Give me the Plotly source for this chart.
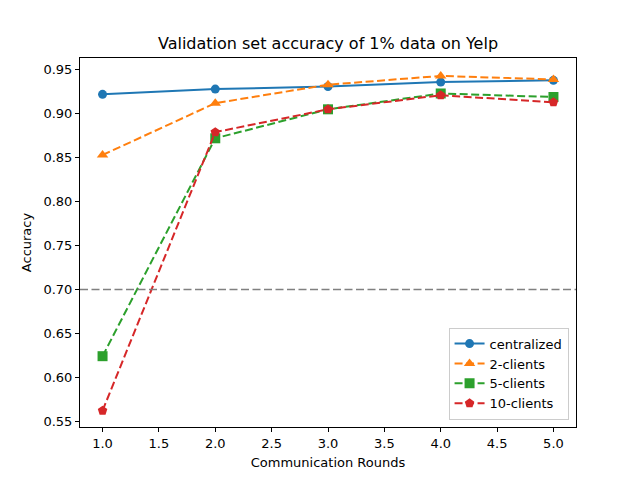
import plotly.graph_objects as go

rounds = [1, 2, 3, 4, 5]
centralized = [0.922, 0.928, 0.931, 0.936, 0.938]
clients_2 = [0.853, 0.912, 0.933, 0.943, 0.939]
clients_5 = [0.624, 0.872, 0.905, 0.923, 0.919]
clients_10 = [0.562, 0.879, 0.905, 0.921, 0.913]
threshold = 0.70

font = "DejaVu Sans"
mpl_dash = "8px,3.5px"

fig = go.Figure()
series = [
    ("centralized", centralized, "#1f77b4", "solid", "circle"),
    ("2-clients", clients_2, "#ff7f0e", mpl_dash, "triangle-up"),
    ("5-clients", clients_5, "#2ca02c", mpl_dash, "square"),
    ("10-clients", clients_10, "#d62728", mpl_dash, "pentagon"),
]
for name, vals, color, dash, sym in series:
    fig.add_trace(go.Scatter(
        x=rounds, y=vals, name=name, mode="lines+markers",
        line=dict(color=color, width=2, dash=dash),
        marker=dict(symbol=sym, size=10 if sym != "circle" else 9, color=color),
    ))

fig.add_hline(y=threshold, line=dict(color="gray", width=1.5, dash=mpl_dash))

axis_common = dict(
    showgrid=False, zeroline=False, showline=True, linecolor="black",
    linewidth=1, mirror=True, ticks="outside", ticklen=4, tickcolor="black",
    tickfont=dict(family=font, size=13, color="black"),
)
fig.update_xaxes(range=[0.8, 5.2], dtick=0.5, tick0=1, tickformat=".1f",
                 title=dict(text="Communication Rounds", font=dict(family=font, size=13, color="black"), standoff=8),
                 **axis_common)
fig.update_yaxes(range=[0.5434, 0.9634], dtick=0.05, tick0=0.55, tickformat=".2f",
                 title=dict(text="Accuracy", font=dict(family=font, size=13, color="black"), standoff=8),
                 **axis_common)

# page body has an 8px margin, so the figure is a bit smaller and shifted
fig.update_layout(
    width=632, height=472,
    margin=dict(l=72, r=64, t=50, b=53),
    paper_bgcolor="white", plot_bgcolor="white",
    title=dict(text="Validation set accuracy of 1% data on Yelp", x=0.5, xref="paper", xanchor="center",
               y=0.926, yref="container", yanchor="middle", font=dict(family=font, size=16, color="black")),
    legend=dict(x=0.985, y=0.02, xanchor="right", yanchor="bottom",
                bgcolor="rgba(255,255,255,0.8)", bordercolor="#cccccc", borderwidth=1,
                font=dict(family=font, size=13, color="black")),
    showlegend=True,
)

fig.write_html("out.html")
